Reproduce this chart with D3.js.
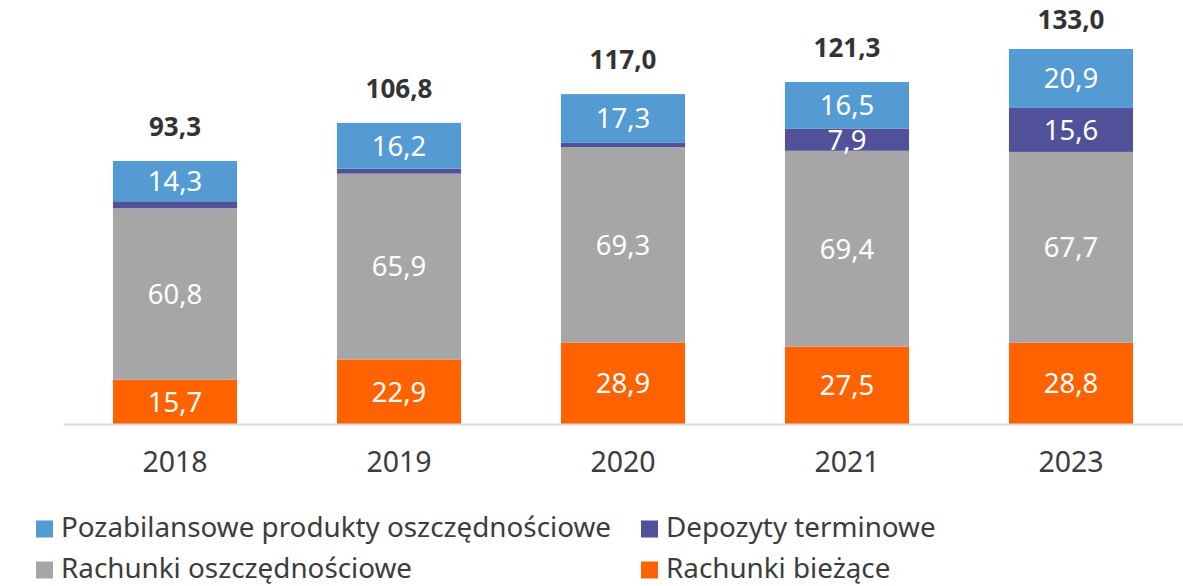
<!DOCTYPE html>
<html>
<head>
<meta charset="utf-8">
<script src="https://cdn.jsdelivr.net/npm/d3@7"></script>
<style>
  body { margin: 0; background: #fff; }
  svg text { font-family: "Noto Sans", "Open Sans", sans-serif; }
</style>
</head>
<body>
<div id="chart"></div>
<script>
// data
const years = ["2018", "2019", "2020", "2021", "2023"];
const biezace = [15.7, 22.9, 28.9, 27.5, 28.8];
const oszczednosciowe = [60.8, 65.9, 69.3, 69.4, 67.7];
const terminowe = [2.5, 1.8, 1.5, 7.9, 15.6];
const pozabilansowe = [14.3, 16.2, 17.3, 16.5, 20.9];
const totals = [93.3, 106.8, 117.0, 121.3, 133.0];

const seriesNames = ["Rachunki bieżące", "Rachunki oszczędnościowe", "Depozyty terminowe", "Pozabilansowe produkty oszczędnościowe"];
const seriesKeys = ["biezace", "oszczednosciowe", "terminowe", "pozabilansowe"];
const colors = ["#ff6200", "#a6a6a6", "#51519a", "#549bd3"];

const rows = years.map((y, i) => ({
  year: y,
  biezace: biezace[i],
  oszczednosciowe: oszczednosciowe[i],
  terminowe: terminowe[i],
  pozabilansowe: pozabilansowe[i],
  total: totals[i]
}));

const W = 1183, H = 586;
const svg = d3.select("#chart").append("svg")
  .attr("width", W)
  .attr("height", H);

const x = d3.scaleBand()
  .domain(years)
  .range([63, 1183])
  .paddingInner(0.446)
  .paddingOuter(0.223);

const y = d3.scaleLinear()
  .domain([0, 133])
  .range([424, 49]);

const fmt = v => d3.format(".1f")(v).replace(".", ",");

const stack = d3.stack().keys(seriesKeys);
const layers = stack(rows);

const g = svg.append("g");

const layerG = g.selectAll(".layer")
  .data(layers)
  .enter().append("g")
  .attr("fill", (d, i) => colors[i]);

layerG.selectAll("rect")
  .data(d => d)
  .enter().append("rect")
  .attr("x", d => x(d.data.year))
  .attr("width", x.bandwidth())
  .attr("y", d => y(d[1]))
  .attr("height", d => y(d[0]) - y(d[1]));

// segment labels (skip the thin ones)
layerG.selectAll("text")
  .data(d => d.filter(s => s[1] - s[0] > 5))
  .enter().append("text")
  .attr("x", d => x(d.data.year) + x.bandwidth() / 2)
  .attr("y", d => (y(d[0]) + y(d[1])) / 2)
  .attr("dy", "0.36em")
  .attr("text-anchor", "middle")
  .attr("fill", "#fff")
  .style("font-size", "27.5px")
  .text(d => fmt(d[1] - d[0]));

// totals above the bars
g.selectAll(".total")
  .data(rows)
  .enter().append("text")
  .attr("class", "total")
  .attr("x", d => x(d.year) + x.bandwidth() / 2)
  .attr("y", d => Math.max(y(d.total) - 25, 29))
  .attr("text-anchor", "middle")
  .attr("fill", "#333")
  .style("font-size", "26px")
  .style("font-weight", "bold")
  .text(d => fmt(d.total));

// x axis
const xAxis = d3.axisBottom(x).tickSize(0).tickPadding(28);
const ax = svg.append("g")
  .attr("transform", "translate(0,424)")
  .call(xAxis);
ax.select(".domain")
  .attr("stroke", "#d9d9d9")
  .attr("stroke-width", 2);
ax.selectAll("text")
  .attr("fill", "#3c3c3c")
  .style("font-size", "28.5px")
  .style("font-family", "'Noto Sans', sans-serif");

// legend
const legendItems = [
  { name: seriesNames[3], color: colors[3], x: 36, y: 529 },
  { name: seriesNames[2], color: colors[2], x: 641, y: 529 },
  { name: seriesNames[1], color: colors[1], x: 36, y: 570 },
  { name: seriesNames[0], color: colors[0], x: 641, y: 570 }
];
const lg = svg.append("g").selectAll("g")
  .data(legendItems)
  .enter().append("g")
  .attr("transform", d => `translate(${d.x},${d.y})`);
lg.append("rect")
  .attr("x", 0)
  .attr("y", -8.5)
  .attr("width", 17)
  .attr("height", 17)
  .attr("fill", d => d.color);
lg.append("text")
  .attr("x", 25)
  .attr("y", 7.5)
  .attr("fill", "#3c3c3c")
  .style("font-size", "27.8px")
  .text(d => d.name);
</script>
</body>
</html>
